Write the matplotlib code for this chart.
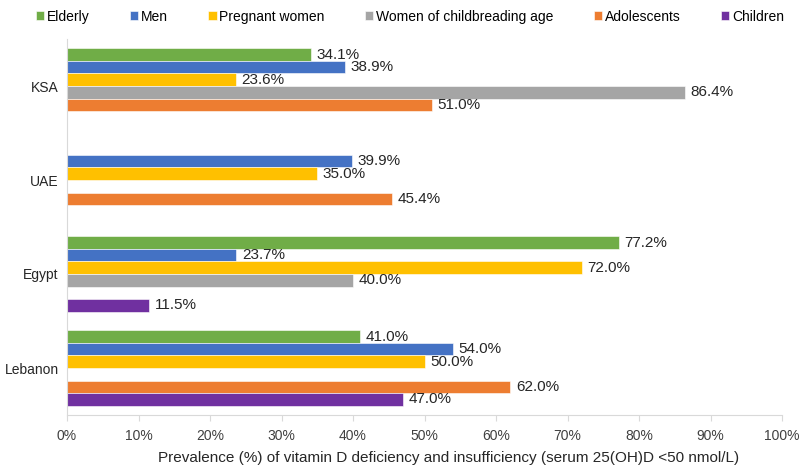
import numpy as np
import matplotlib
matplotlib.use("Agg")
import matplotlib.pyplot as plt

plt.rcParams["font.family"] = ["Liberation Sans", "DejaVu Sans"]

countries = ["KSA", "UAE", "Egypt", "Lebanon"]
series_names = ["Elderly", "Men", "Pregnant women",
                "Women of childbreading age", "Adolescents", "Children"]
nan = np.nan
elderly = [34.1, nan, 77.2, 41.0]
men = [38.9, 39.9, 23.7, 54.0]
pregnant = [23.6, 35.0, 72.0, 50.0]
women_childbearing = [86.4, nan, 40.0, nan]
adolescents = [51.0, 45.4, nan, 62.0]
children = [nan, nan, 11.5, 47.0]
series_values = [elderly, men, pregnant, women_childbearing, adolescents, children]
colors = ["#70AD47", "#4472C4", "#FFC000", "#A5A5A5", "#ED7D31", "#7030A0"]

fig = plt.figure(figsize=(7.99, 4.71), dpi=100)
ax = fig.add_axes([67 / 799, 1 - 415 / 471, (782 - 67) / 799, (415 - 39) / 471])

n = len(series_names)
group_pos = np.arange(len(countries))
bar_h = 0.134
for i, (name, vals, col) in enumerate(zip(series_names, series_values, colors)):
    offsets = group_pos + (i - (n - 1) / 2) * bar_h
    vals = np.array(vals, dtype=float)
    bars = ax.barh(offsets, np.nan_to_num(vals), height=bar_h, color=col,
                   label=name, edgecolor="white", linewidth=0.4)
    labels = ["" if np.isnan(v) else f"{v:.1f}%" for v in vals]
    ax.bar_label(bars, labels=labels, padding=4, fontsize=11, color="#262626")

ax.set_ylim(len(countries) - 0.5, -0.5)
ax.set_yticks(group_pos)
ax.set_yticklabels(countries, fontsize=10, color="#262626")
ax.set_xlim(0, 100)
ax.set_xticks(np.arange(0, 101, 10))
ax.set_xticklabels([f"{t}%" for t in range(0, 101, 10)], fontsize=10, color="#404040")
ax.set_xlabel("Prevalence (%) of vitamin D deficiency and insufficiency (serum 25(OH)D <50 nmol/L)",
              fontsize=11, color="#262626", labelpad=8)
ax.xaxis.set_label_coords(0.534, -0.095)

for side in ["top", "right"]:
    ax.spines[side].set_visible(False)
for side in ["left", "bottom"]:
    ax.spines[side].set_color("#D9D9D9")
ax.tick_params(axis="x", colors="#D9D9D9", labelcolor="#404040", length=4, pad=6)
ax.tick_params(axis="y", length=0, pad=6, labelcolor="#262626")

fig.legend(loc="upper center", bbox_to_anchor=(410 / 799, 1.0), ncol=6, frameon=False,
           fontsize=10, handlelength=0.6, handleheight=0.6, handletextpad=0.2,
           columnspacing=2.9, borderaxespad=0.3)

fig.savefig("out.png", dpi=100)
